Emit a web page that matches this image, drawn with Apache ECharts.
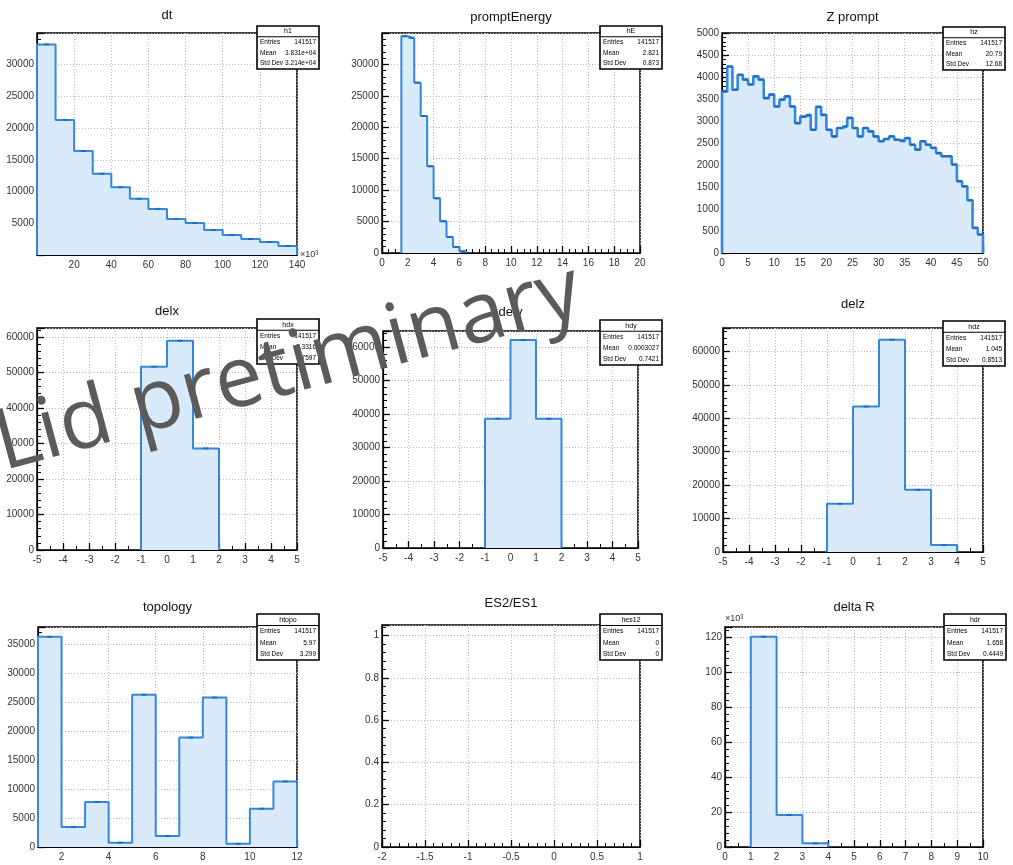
<!DOCTYPE html>
<html>
<head>
<meta charset="utf-8">
<script src="https://cdn.jsdelivr.net/npm/echarts@6/dist/echarts.min.js"></script>
<style>
  html, body { margin: 0; padding: 0; background: #fff; }
  #c { width: 1013px; height: 865px; }
</style>
</head>
<body>
<div id="c"></div>
<script>
// ---- histogram contents (bin edges + counts per bin) ----
const dtEdges = [0, 10, 20, 30, 40, 50, 60, 70, 80, 90, 100, 110, 120, 130, 140];
const dtCounts = [33200, 21300, 16400, 12800, 10700, 8850, 7270, 5690, 5060, 3950, 3160, 2530, 2050, 1420];

const eEdges = [1.5, 2, 2.5, 3, 3.5, 4, 4.5, 5, 5.5, 6, 6.5];
const eCounts = [34500, 34200, 27100, 21800, 13800, 8700, 5050, 2550, 960, 270];

const zEdges = [0, 1, 2, 3, 4, 5, 6, 7, 8, 9, 10, 11, 12, 13, 14, 15, 16, 17, 18, 19, 20,
  21, 22, 23, 24, 25, 26, 27, 28, 29, 30, 31, 32, 33, 34, 35, 36, 37, 38, 39, 40,
  41, 42, 43, 44, 45, 46, 47, 48, 49, 50];
const zCounts = [3670, 4240, 3710, 4050, 3940, 3830, 4015, 3940, 3520, 3600,
  3330, 3485, 3560, 3330, 2950, 3100, 3140, 2800, 3320, 3140,
  2800, 2650, 2840, 2880, 3070, 2840, 2650, 2840, 2765, 2650,
  2540, 2590, 2650, 2575, 2540, 2610, 2460, 2350, 2540, 2460,
  2390, 2270, 2200, 2200, 2010, 1630, 1515, 1200, 570, 420];

const dxEdges = [-1, 0, 1, 2];
const dxCounts = [51600, 58900, 28600];

const dyEdges = [-1, 0, 1, 2];
const dyCounts = [38600, 62100, 38600];

const dzEdges = [-1, 0, 1, 2, 3, 4];
const dzCounts = [14400, 43500, 63500, 18600, 2100];

const topoEdges = [1, 2, 3, 4, 5, 6, 7, 8, 9, 10, 11, 12];
const topoCounts = [36200, 3450, 7750, 750, 26250, 1900, 18850, 25750, 550, 6600, 11300];

const esEdges = [];
const esCounts = [];

const drEdges = [1, 2, 3, 4];
const drCounts = [120200, 18300, 2100];

// ---- tick labels shown only at selected positions ----
const topoLabelTicks = [2, 4, 6, 8, 10, 12];

// ---- statistics boxes ----
const statLabels = ['Entries', 'Mean', 'Std Dev'];
const dtStats = ['141517', '3.831e+04', '3.214e+04'];
const eStats = ['141517', '2.821', '0.873'];
const zStats = ['141517', '20.79', '12.68'];
const dxStats = ['141517', '0.3316', '0.7597'];
const dyStats = ['141517', '0.0003027', '0.7421'];
const dzStats = ['141517', '1.045', '0.8513'];
const topoStats = ['141517', '5.97', '3.299'];
const esStats = ['141517', '0', '0'];
const drStats = ['141517', '1.658', '0.4449'];

// ---- style ----
const FONT = '"Liberation Sans", Arial, Helvetica, sans-serif';
const LINE = '#3388de';
const FILL = '#d9ebfb';
const MARK = '#1f62b6';

const panels = [
  { title: 'dt', hname: 'h1', edges: dtEdges, counts: dtCounts, stats: dtStats,
    frame: [37, 33, 297, 255], titleY: 15, box: [257, 26, 62, 43],
    x: { min: 0, max: 140, interval: 20, minor: 4, hideMin: true, name: '×10³' },
    y: { min: 0, max: 35000, interval: 5000, minor: 5, hideMin: true, hideMax: true } },
  { title: 'promptEnergy', hname: 'hE', edges: eEdges, counts: eCounts, stats: eStats,
    frame: [382, 33, 640, 253], titleY: 17, box: [600, 26, 62, 43],
    x: { min: 0, max: 20, interval: 2, minor: 4 },
    y: { min: 0, max: 35000, interval: 5000, minor: 5, hideMax: true } },
  { title: 'Z prompt', hname: 'hz', edges: zEdges, counts: zCounts, stats: zStats, lw: 2.6,
    frame: [722, 33, 983, 253], titleY: 17, box: [943, 27, 62, 43],
    x: { min: 0, max: 50, interval: 5, minor: 5 },
    y: { min: 0, max: 5000, interval: 500, minor: 5 } },
  { title: 'delx', hname: 'hdx', edges: dxEdges, counts: dxCounts, stats: dxStats,
    frame: [37, 328, 297, 550], titleY: 311, box: [257, 319, 62, 45],
    x: { min: -5, max: 5, interval: 1, minor: 2 },
    y: { min: 0, max: 62500, interval: 10000, minor: 5 } },
  { title: 'dely', hname: 'hdy', edges: dyEdges, counts: dyCounts, stats: dyStats,
    frame: [383, 331, 638, 548], titleY: 312, box: [600, 320, 62, 45],
    x: { min: -5, max: 5, interval: 1, minor: 2 },
    y: { min: 0, max: 64800, interval: 10000, minor: 5 } },
  { title: 'delz', hname: 'hdz', edges: dzEdges, counts: dzCounts, stats: dzStats,
    frame: [723, 328, 983, 552], titleY: 304, box: [943, 321, 62, 45],
    x: { min: -5, max: 5, interval: 1, minor: 2 },
    y: { min: 0, max: 67000, interval: 10000, minor: 5 } },
  { title: 'topology', hname: 'htopo', edges: topoEdges, counts: topoCounts, stats: topoStats,
    frame: [38, 627, 297, 847], titleY: 607, box: [257, 614, 62, 46],
    x: { min: 1, max: 12, interval: 1, minor: 2, custom: topoLabelTicks },
    y: { min: 0, max: 37900, interval: 5000, minor: 5 } },
  { title: 'ES2/ES1', hname: 'hes12', edges: esEdges, counts: esCounts, stats: esStats,
    frame: [382, 625, 640, 847], titleY: 603, box: [600, 614, 62, 46],
    x: { min: -2, max: 1, interval: 0.5, minor: 5 },
    y: { min: 0, max: 1.05, interval: 0.2, minor: 5 } },
  { title: 'delta R', hname: 'hdr', edges: drEdges, counts: drCounts, stats: drStats,
    frame: [725, 627, 983, 847], titleY: 607, box: [944, 614, 62, 46],
    x: { min: 0, max: 10, interval: 1, minor: 2 },
    y: { min: 0, max: 125700, interval: 20000, minor: 5, div: 1000, name: '×10³' } }
];

// stepped outline of a histogram: up at the first edge, flat over each bin, down at the last edge
function stepData(edges, counts) {
  const pts = [[edges[0], 0]];
  counts.forEach((c, i) => pts.push([edges[i], c]));
  pts.push([edges[edges.length - 1], counts[counts.length - 1]]);
  pts.push([edges[edges.length - 1], 0]);
  return pts;
}
function centers(edges, counts) {
  return counts.map((c, i) => [(edges[i] + edges[i + 1]) / 2, c]);
}
function fmt(v, div) {
  const n = div ? v / div : v;
  return String(+n.toFixed(6));
}
function isMultiple(v, step) {
  const r = v / step;
  return Math.abs(r - Math.round(r)) < 1e-9;
}

function makeAxis(a, i, isX) {
  const ax = {
    type: 'value', gridIndex: i, min: a.min, max: a.max, interval: a.interval,
    axisLine: { show: true, onZero: false, lineStyle: { color: '#000', width: 1.2 } },
    axisTick: { show: true, inside: true, length: 7, lineStyle: { color: '#000', width: 1.3 } },
    minorTick: { show: true, splitNumber: a.minor, length: 4, lineStyle: { color: '#000', width: 1 } },
    splitLine: { show: true, lineStyle: { color: '#b8b8b8', width: 1, type: [1, 2] } },
    axisLabel: {
      show: true, fontSize: 10, color: '#333', fontFamily: FONT, margin: isX ? 5 : 3,
      showMinLabel: !a.hideMin,
      showMaxLabel: !a.hideMax && isMultiple(a.max, a.interval),
      formatter: v => fmt(v, a.div)
    }
  };
  if (a.custom) {
    ax.axisLabel.customValues = a.custom;
    ax.axisTick.customValues = a.custom;
  }
  if (a.name) {
    ax.name = a.name;
    ax.nameLocation = 'end';
    ax.nameGap = isX ? 3 : 4;
    ax.nameTextStyle = isX
      ? { fontSize: 9, color: '#333', fontFamily: FONT, padding: [0, 0, 9, 0] }
      : { fontSize: 9, color: '#333', fontFamily: FONT, align: 'left' };
  }
  return ax;
}

const grids = [], xAxes = [], yAxes = [], series = [], graphics = [];

panels.forEach((p, i) => {
  const [l, t, r, b] = p.frame;
  grids.push({ left: l, top: t, width: r - l, height: b - t, show: true,
    borderColor: '#000', borderWidth: 1.5, backgroundColor: 'transparent' });
  xAxes.push(makeAxis(p.x, i, true));
  yAxes.push(makeAxis(p.y, i, false));

  if (p.counts.length) {
    series.push({
      type: 'line', xAxisIndex: i, yAxisIndex: i, step: 'end',
      data: stepData(p.edges, p.counts),
      showSymbol: false, symbol: 'none', animation: false, z: 3,
      lineStyle: { color: LINE, width: p.lw || 2 },
      areaStyle: { color: FILL, opacity: 1 }
    });
    series.push({
      type: 'scatter', xAxisIndex: i, yAxisIndex: i, silent: true, animation: false, z: 4,
      data: centers(p.edges, p.counts), symbol: 'rect', symbolSize: [5, 2],
      itemStyle: { color: MARK }
    });
  }

  // pad title
  graphics.push({
    type: 'text', z: 50, x: (l + r) / 2, y: p.titleY,
    style: { text: p.title, font: '13px ' + FONT, fill: '#111',
      align: 'center', verticalAlign: 'middle', textAlign: 'center', textVerticalAlign: 'middle' }
  });

  // statistics box
  const [bx, by, bw, bh] = p.box;
  const head = bh / 4;
  graphics.push({
    type: 'rect', z: 60, shape: { x: bx, y: by, width: bw, height: bh },
    style: { fill: '#fff', stroke: '#000', lineWidth: 1.6 }
  });
  graphics.push({
    type: 'line', z: 61, shape: { x1: bx, y1: by + head, x2: bx + bw, y2: by + head },
    style: { stroke: '#000', lineWidth: 1 }
  });
  graphics.push({
    type: 'text', z: 62, x: bx + bw / 2, y: by + head / 2,
    style: { text: p.hname, font: '7px ' + FONT, fill: '#000',
      align: 'center', verticalAlign: 'middle', textAlign: 'center', textVerticalAlign: 'middle' }
  });
  statLabels.forEach((lab, k) => {
    const yy = by + head * (k + 1.5);
    graphics.push({
      type: 'text', z: 62, x: bx + 3, y: yy,
      style: { text: lab, font: '6.5px ' + FONT, fill: '#000',
        align: 'left', verticalAlign: 'middle', textAlign: 'left', textVerticalAlign: 'middle' }
    });
    graphics.push({
      type: 'text', z: 62, x: bx + bw - 3, y: yy,
      style: { text: p.stats[k], font: '6.5px ' + FONT, fill: '#000',
        align: 'right', verticalAlign: 'middle', textAlign: 'right', textVerticalAlign: 'middle' }
    });
  });
});

// overlay label written across the upper-left pads
const wmAngle = 15 * Math.PI / 180;
graphics.push({
  type: 'text', z: 200, x: -3, y: 447, rotation: wmAngle,
  style: { text: 'Lid pretiminary', font: '85px "Open Sans", "Noto Sans", sans-serif', fill: '#5b5b5b',
    align: 'left', verticalAlign: 'middle', textAlign: 'left', textVerticalAlign: 'middle' }
});

const chart = echarts.init(document.getElementById('c'), null, { renderer: 'canvas' });
chart.setOption({
  backgroundColor: '#ffffff',
  animation: false,
  grid: grids.map(g => Object.assign({ outerBoundsMode: 'none', containLabel: false }, g)),
  xAxis: xAxes,
  yAxis: yAxes,
  series: series,
  graphic: { elements: graphics }
});
</script>
</body>
</html>
